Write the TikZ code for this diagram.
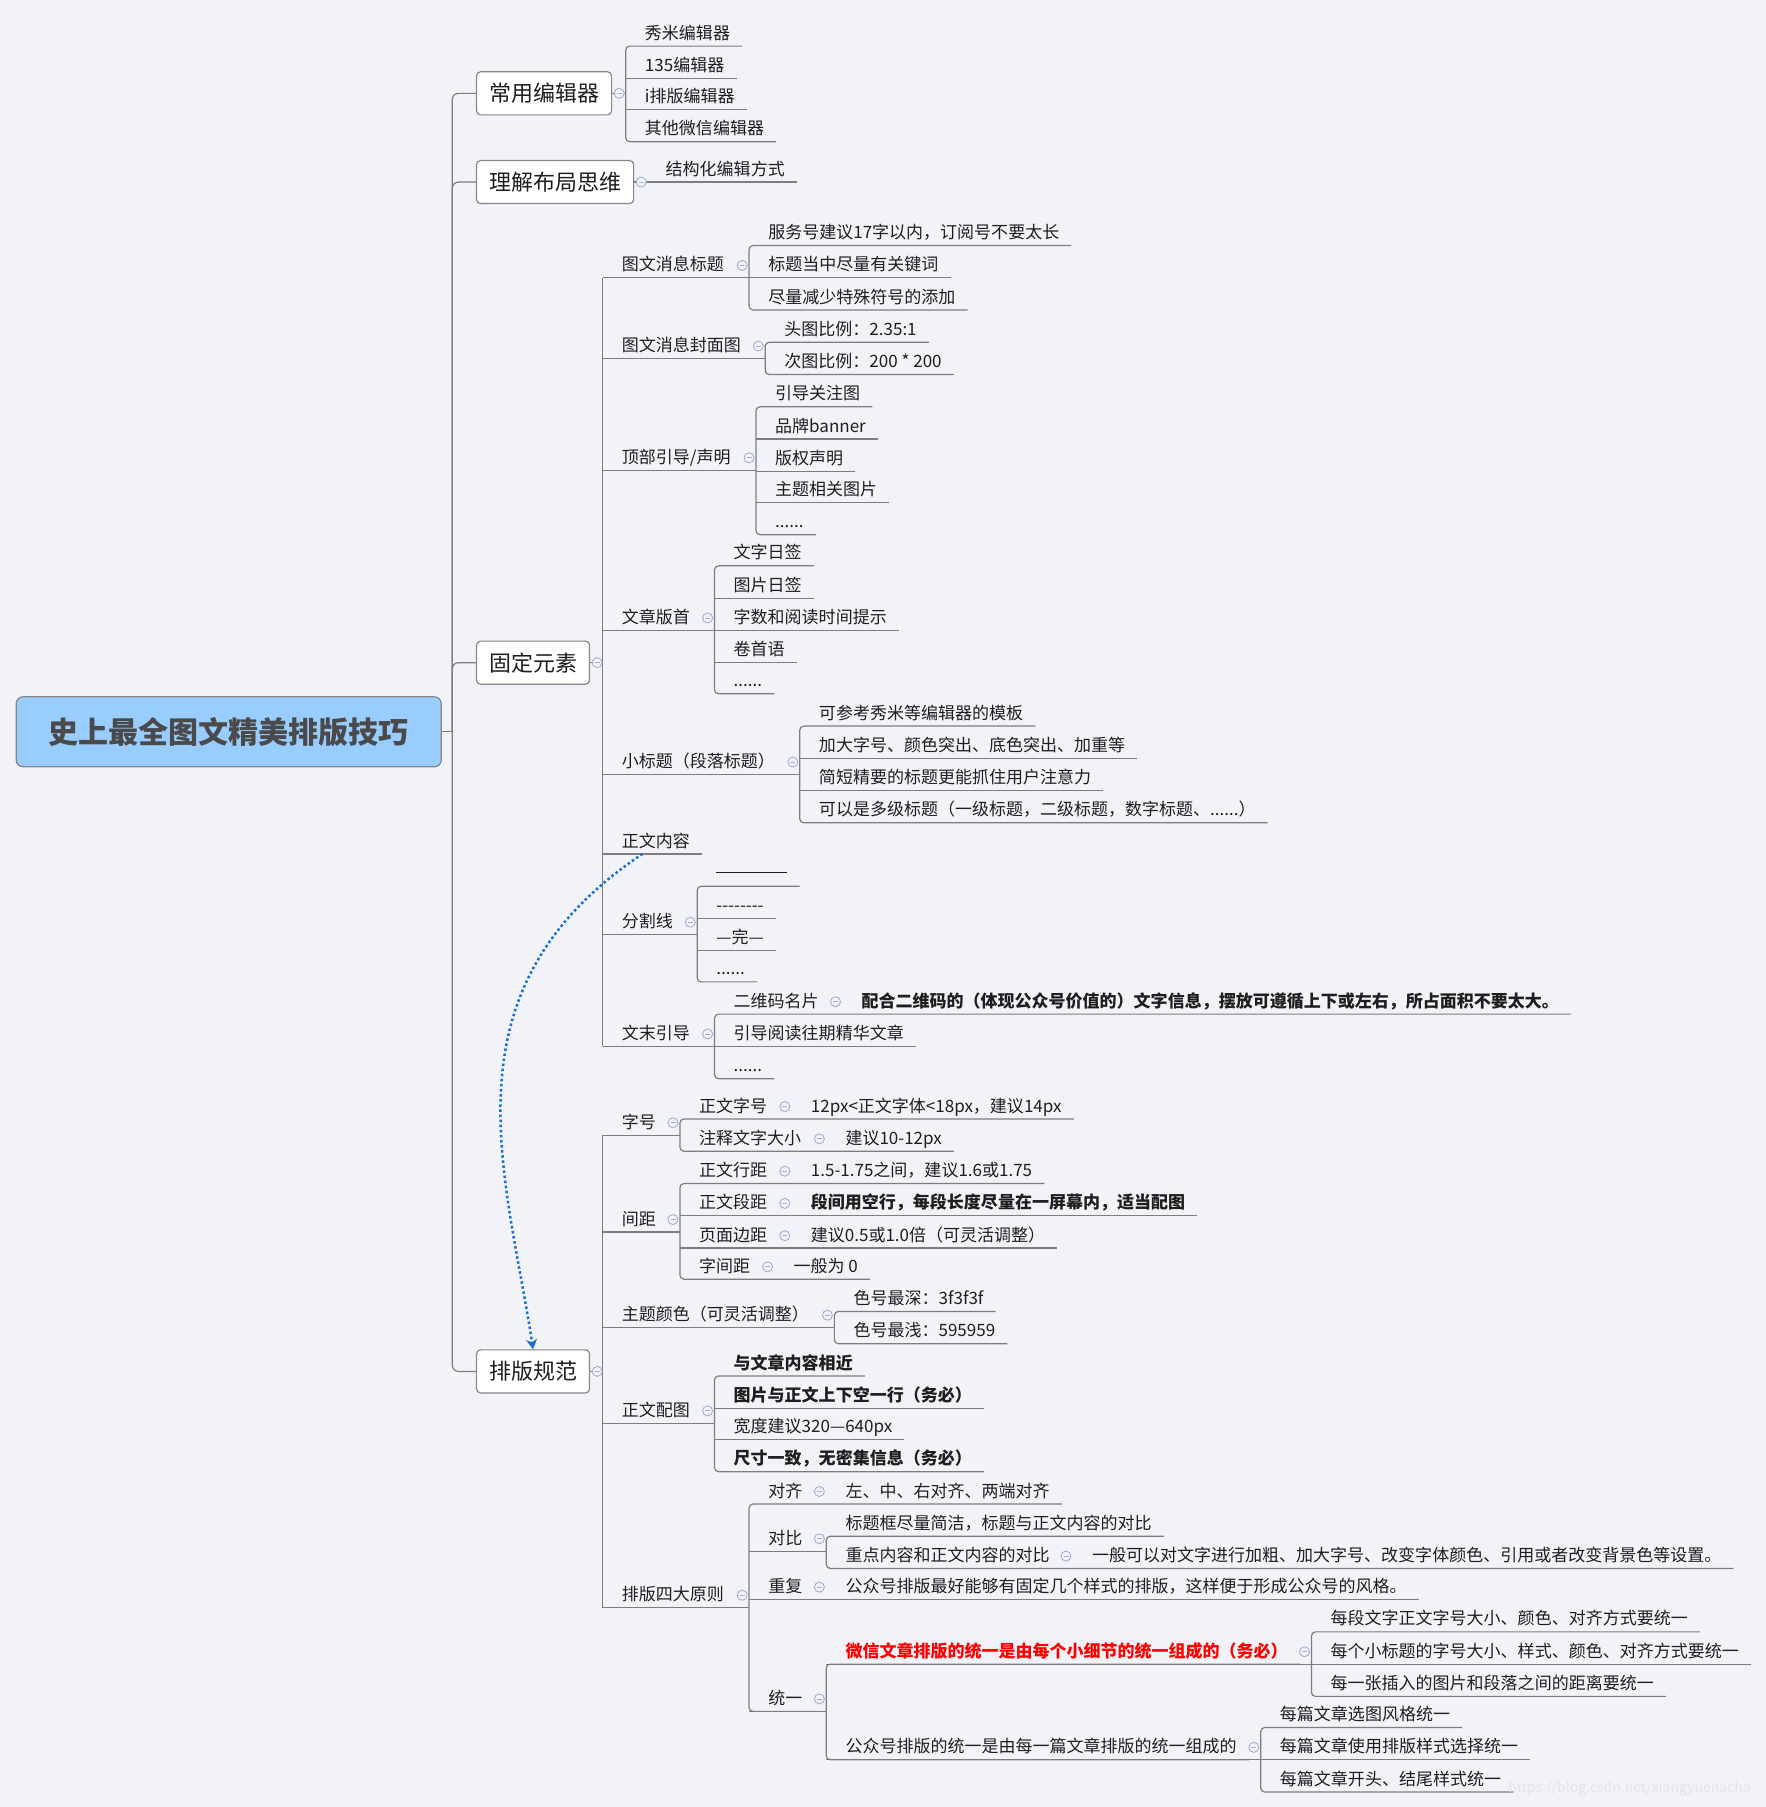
\documentclass[tikz,border=0pt]{standalone}
\usepackage{fontspec}
\setmainfont{Noto Sans CJK SC}
\usetikzlibrary{arrows.meta,calc}

\definecolor{bgc}{RGB}{242,243,248}
\definecolor{linec}{RGB}{125,125,125}
\definecolor{boxc}{RGB}{135,135,135}
\definecolor{txtc}{RGB}{30,30,30}
\definecolor{rootc}{RGB}{153,204,255}
\definecolor{roott}{RGB}{74,74,74}
\definecolor{foldc}{RGB}{160,176,212}
\definecolor{arrc}{RGB}{25,110,210}
\definecolor{redc}{RGB}{255,0,0}
\definecolor{wmc}{RGB}{226,228,234}

\begin{document}
\begin{tikzpicture}[x=1.152pt,y=-1.152pt,
  conn/.style={draw=linec,line width=1.2pt},
  tp/.style={anchor=south west,inner xsep=0pt,inner ysep=3.7pt,text height=14pt,text depth=3pt,
    font=\fontsize{17pt}{20pt}\selectfont,text=txtc,
    execute at begin node={\hspace*{19pt}},execute at end node={\hspace*{12pt}}},
  bd/.style={tp,font=\fontsize{17pt}{20pt}\selectfont\bfseries},
  topbox/.style={anchor=west,draw=boxc,fill=white,line width=1.2pt,rounded corners=4pt,
    inner xsep=12.5pt,minimum height=43pt,font=\fontsize{22pt}{26pt}\selectfont,text=txtc},
  rootbox/.style={draw=boxc,fill=rootc,line width=1.2pt,rounded corners=7pt,minimum width=425pt,
    minimum height=70pt,font=\fontsize{30pt}{34pt}\selectfont\bfseries,text=roott},
  fold/.style={circle,draw=foldc,fill=bgc,line width=0.9pt,inner sep=0pt,minimum size=10pt,
    path picture={\draw[foldc,line width=0.9pt]
      ([xshift=-2.5pt]path picture bounding box.center) -- ([xshift=2.5pt]path picture bounding box.center);}},
  wmark/.style={font=\fontsize{14pt}{16pt}\selectfont,text=wmc},
  rel/.style={draw=arrc,line width=2.5pt,dash pattern=on 2.5pt off 2.6pt,-{Stealth[length=10pt,width=11pt]}}]

  % sfondo
  \fill[bgc] (0,0) rectangle (1532,1568);
  \useasboundingbox (0,0) rectangle (1532,1568);

  % radice e rami principali
  \node[rootbox] (root) at (198.5,635) {史上最全图文精美排版技巧};
  \node[topbox] (b1) at (413,81) {常用编辑器};
  \node[topbox] (b2) at (413,158) {理解布局思维};
  \node[topbox] (b3) at (413,575) {固定元素};
  \node[topbox] (b4) at (413,1190) {排版规范};
  \coordinate (trk) at ([xshift=10.4pt]root.east);
  \draw[conn] (root.east) -- (trk);
  \draw[conn,rounded corners=6pt] (b1.west) -| (trk) |- (b4.west);
  \draw[conn,rounded corners=6pt] (b2.west) -| (trk);
  \draw[conn,rounded corners=6pt] (b3.west) -| (trk);

  % common editors
  \node[tp] (e1) at (543,40) {秀米编辑器};
  \node[tp] (e2) at (543,68) {135编辑器};
  \node[tp] (e3) at (543,95) {i排版编辑器};
  \node[tp] (e4) at (543,123) {其他微信编辑器};
  \draw[conn] (b1.east) -- (b1.east -| e1.south west);
  \draw[conn,rounded corners=4pt] (e1.south east) -- (e1.south west) -- (e4.south west) -- (e4.south east);
  \draw[conn] (e2.south west) -- (e2.south east) (e3.south west) -- (e3.south east);
  \node[fold] (fb1) at ([xshift=7pt]b1.east) {};

  % layout
  \node[tp] (s1) at (561,158) {结构化编辑方式};
  \draw[conn] (b2.east) -- (s1.south west) -- (s1.south east);
  \node[fold] (fb2) at ([xshift=7pt]b2.east) {};

  % fixed elements
  \node[tp] (g1) at (523,241) {图文消息标题};
  \node[tp] (g2) at (523,311) {图文消息封面图};
  \node[tp] (g3) at (523,408) {顶部引导/声明};
  \node[tp] (g4) at (523,547) {文章版首};
  \node[tp] (g5) at (523,672) {小标题（段落标题）};
  \node[tp] (g6) at (523,741) {正文内容};
  \node[tp] (g7) at (523,811) {分割线};
  \node[tp] (g8) at (523,908) {文末引导};
  \draw[conn] (b3.east) -- (b3.east -| g1.south west);
  \draw[conn] (g1.south west) -- (g8.south west);
  \draw[conn] (g6.south west) -- (g6.south east);
  \node[fold] (fb3) at ([xshift=7pt]b3.east) {};

  \node[tp] (h11) at (650,213) {服务号建议17字以内，订阅号不要太长};
  \node[tp] (h12) at (650,241) {标题当中尽量有关键词};
  \node[tp] (h13) at (650,269) {尽量减少特殊符号的添加};
  \draw[conn] (g1.south west) -- (g1.south west -| h11.south west);
  \draw[conn,rounded corners=4pt] (h11.south east) -- (h11.south west) -- (h13.south west) -- (h13.south east);
  \draw[conn] (h12.south west) -- (h12.south east);
  \node[fold] (fg1) at ($(g1.center -| h11.south west)+(-6,0)$) {};

  \node[tp] (h21) at (664,297) {头图比例：2.35:1};
  \node[tp] (h22) at (664,325) {次图比例：200 * 200};
  \draw[conn] (g2.south west) -- (g2.south west -| h21.south west);
  \draw[conn,rounded corners=4pt] (h21.south east) -- (h21.south west) -- (h22.south west) -- (h22.south east);
  \node[fold] (fg2) at ($(g2.center -| h21.south west)+(-6,0)$) {};

  \node[tp] (h31) at (656,353) {引导关注图};
  \node[tp] (h32) at (656,381) {品牌banner};
  \node[tp] (h33) at (656,409) {版权声明};
  \node[tp] (h34) at (656,436) {主题相关图片};
  \node[tp] (h35) at (656,464) {......};
  \draw[conn] (g3.south west) -- (g3.south west -| h31.south west);
  \draw[conn,rounded corners=4pt] (h31.south east) -- (h31.south west) -- (h35.south west) -- (h35.south east);
  \draw[conn] (h32.south west) -- (h32.south east) (h33.south west) -- (h33.south east)
    (h34.south west) -- (h34.south east);
  \node[fold] (fg3) at ($(g3.center -| h31.south west)+(-6,0)$) {};

  \node[tp] (h41) at (620,491) {文字日签};
  \node[tp] (h42) at (620,519) {图片日签};
  \node[tp] (h43) at (620,547) {字数和阅读时间提示};
  \node[tp] (h44) at (620,575) {卷首语};
  \node[tp] (h45) at (620,602) {......};
  \draw[conn] (g4.south west) -- (g4.south west -| h41.south west);
  \draw[conn,rounded corners=4pt] (h41.south east) -- (h41.south west) -- (h45.south west) -- (h45.south east);
  \draw[conn] (h42.south west) -- (h42.south east) (h43.south west) -- (h43.south east)
    (h44.south west) -- (h44.south east);
  \node[fold] (fg4) at ($(g4.center -| h41.south west)+(-6,0)$) {};

  \node[tp] (h51) at (694,630) {可参考秀米等编辑器的模板};
  \node[tp] (h52) at (694,658) {加大字号、颜色突出、底色突出、加重等};
  \node[tp] (h53) at (694,686) {简短精要的标题更能抓住用户注意力};
  \node[tp] (h54) at (694,714) {可以是多级标题（一级标题，二级标题，数字标题、......）};
  \draw[conn] (g5.south west) -- (g5.south west -| h51.south west);
  \draw[conn,rounded corners=4pt] (h51.south east) -- (h51.south west) -- (h54.south west) -- (h54.south east);
  \draw[conn] (h52.south west) -- (h52.south east) (h53.south west) -- (h53.south east);
  \node[fold] (fg5) at ($(g5.center -| h51.south west)+(-6,0)$) {};

  \node[tp] (h71) at (605,769) {\raisebox{6pt}{\rule{71pt}{1.5pt}}};
  \node[tp] (h72) at (605,797) {-{}-{}-{}-{}-{}-{}-{}-};
  \node[tp] (h73) at (605,825) {—完—};
  \node[tp] (h74) at (605,852) {......};
  \draw[conn] (g7.south west) -- (g7.south west -| h71.south west);
  \draw[conn,rounded corners=4pt] (h71.south east) -- (h71.south west) -- (h74.south west) -- (h74.south east);
  \draw[conn] (h72.south west) -- (h72.south east) (h73.south west) -- (h73.south east);
  \node[fold] (fg7) at ($(g7.center -| h71.south west)+(-6,0)$) {};

  \node[tp] (h81) at (620,880) {二维码名片};
  \node[bd] (k81) at (731,880) {配合二维码的（体现公众号价值的）文字信息，摆放可遵循上下或左右，所占面积不要太大。};
  \node[tp] (h82) at (620,908) {引导阅读往期精华文章};
  \node[tp] (h83) at (620,936) {......};
  \draw[conn] (g8.south west) -- (g8.south west -| h81.south west);
  \draw[conn,rounded corners=4pt] (k81.south east) -- (h81.south west) -- (h83.south west) -- (h83.south east);
  \draw[conn] (h82.south west) -- (h82.south east);
  \node[fold] (fg8) at ($(g8.center -| h81.south west)+(-6,0)$) {};
  \node[fold] (fh8) at ($(h81.center -| k81.south west)+(-6,0)$) {};

  % layout rules
  \node[tp] (p1) at (523,985) {字号};
  \node[tp] (p2) at (523,1069) {间距};
  \node[tp] (p3) at (523,1152) {主题颜色（可灵活调整）};
  \node[tp] (p4) at (523,1235) {正文配图};
  \node[tp] (p5) at (523,1395) {排版四大原则};
  \draw[conn] (b4.east) -- (b4.east -| p1.south west);
  \draw[conn] (p1.south west) -- (p5.south west);
  \node[fold] (fb4) at ([xshift=7pt]b4.east) {};

  \node[tp] (q11) at (590,971) {正文字号};
  \node[tp] (r11) at (687,971) {12px<正文字体<18px，建议14px};
  \node[tp] (q12) at (590,999) {注释文字大小};
  \node[tp] (r12) at (717,999) {建议10-12px};
  \draw[conn] (p1.south west) -- (p1.south west -| q11.south west);
  \draw[conn,rounded corners=4pt] (r11.south east) -- (q11.south west) -- (q12.south west) -- (r12.south east);
  \node[fold] (fp1) at ($(p1.center -| q11.south west)+(-6,0)$) {};
  \node[fold] (fq11) at ($(q11.center -| r11.south west)+(-6,0)$) {};
  \node[fold] (fq12) at ($(q12.center -| r12.south west)+(-6,0)$) {};

  \node[tp] (q21) at (590,1027) {正文行距};
  \node[tp] (r21) at (687,1027) {1.5-1.75之间，建议1.6或1.75};
  \node[tp] (q22) at (590,1055) {正文段距};
  \node[bd] (r22) at (687,1055) {段间用空行，每段长度尽量在一屏幕内，适当配图};
  \node[tp] (q23) at (590,1083) {页面边距};
  \node[tp] (r23) at (687,1083) {建议0.5或1.0倍（可灵活调整）};
  \node[tp] (q24) at (590,1110) {字间距};
  \node[tp] (r24) at (672,1110) {一般为 0};
  \draw[conn] (p2.south west) -- (p2.south west -| q21.south west);
  \draw[conn,rounded corners=4pt] (r21.south east) -- (q21.south west) -- (q24.south west) -- (r24.south east);
  \draw[conn] (q22.south west) -- (r22.south east) (q23.south west) -- (r23.south east);
  \node[fold] (fp2) at ($(p2.center -| q21.south west)+(-6,0)$) {};
  \node[fold] (fq21) at ($(q21.center -| r21.south west)+(-6,0)$) {};
  \node[fold] (fq22) at ($(q22.center -| r22.south west)+(-6,0)$) {};
  \node[fold] (fq23) at ($(q23.center -| r23.south west)+(-6,0)$) {};
  \node[fold] (fq24) at ($(q24.center -| r24.south west)+(-6,0)$) {};

  \node[tp] (q31) at (724,1138) {色号最深：3f3f3f};
  \node[tp] (q32) at (724,1166) {色号最浅：595959};
  \draw[conn] (p3.south west) -- (p3.south west -| q31.south west);
  \draw[conn,rounded corners=4pt] (q31.south east) -- (q31.south west) -- (q32.south west) -- (q32.south east);
  \node[fold] (fp3) at ($(p3.center -| q31.south west)+(-6,0)$) {};

  \node[bd] (q41) at (620,1194) {与文章内容相近};
  \node[bd] (q42) at (620,1222) {图片与正文上下空一行（务必）};
  \node[tp] (q43) at (620,1249) {宽度建议320—640px};
  \node[bd] (q44) at (620,1277) {尺寸一致，无密集信息（务必）};
  \draw[conn] (p4.south west) -- (p4.south west -| q41.south west);
  \draw[conn,rounded corners=4pt] (q41.south east) -- (q41.south west) -- (q44.south west) -- (q44.south east);
  \draw[conn] (q42.south west) -- (q42.south east) (q43.south west) -- (q43.south east);
  \node[fold] (fp4) at ($(p4.center -| q41.south west)+(-6,0)$) {};

  % four principles
  \node[tp] (q51) at (650,1305) {对齐};
  \node[tp] (r51) at (717,1305) {左、中、右对齐、两端对齐};
  \node[tp] (q52) at (650,1346) {对比};
  \node[tp] (r521) at (717,1333) {标题框尽量简洁，标题与正文内容的对比};
  \node[tp] (r522) at (717,1361) {重点内容和正文内容的对比};
  \node[tp] (t522) at (931,1361) {一般可以对文字进行加粗、加大字号、改变字体颜色、引用或者改变背景色等设置。};
  \node[tp] (q53) at (650,1388) {重复};
  \node[tp] (r53) at (717,1388) {公众号排版最好能够有固定几个样式的排版，这样便于形成公众号的风格。};
  \node[tp] (q54) at (650,1485) {统一};
  \node[bd,text=redc] (r541) at (717,1444) {微信文章排版的统一是由每个小细节的统一组成的（务必）};
  \node[tp] (r542) at (717,1527) {公众号排版的统一是由每一篇文章排版的统一组成的};
  \draw[conn] (p5.south west) -- (p5.south west -| q51.south west);
  \draw[conn,rounded corners=4pt] (r51.south east) -- (q51.south west) -- (q54.south west) -- (q54.south east);
  \draw[conn] (q53.south west) -- (r53.south east);
  \draw[conn] (q52.south west) -- (q52.south west -| r521.south west);
  \draw[conn,rounded corners=4pt] (r521.south east) -- (r521.south west) -- (r522.south west) -- (t522.south east);
  \draw[conn] (q54.south west) -- (q54.south west -| r542.south west);
  \node[fold] (fp5) at ($(p5.center -| q51.south west)+(-6,0)$) {};
  \node[fold] (fq51) at ($(q51.center -| r51.south west)+(-6,0)$) {};
  \node[fold] (fq52) at ($(q52.center -| r521.south west)+(-6,0)$) {};
  \node[fold] (fr52) at ($(r522.center -| t522.south west)+(-6,0)$) {};
  \node[fold] (fq53) at ($(q53.center -| r53.south west)+(-6,0)$) {};
  \node[fold] (fq54) at ($(q54.center -| r541.south west)+(-6,0)$) {};

  \node[tp] (t1) at (1138,1416) {每段文字正文字号大小、颜色、对齐方式要统一};
  \node[tp] (t2) at (1138,1444) {每个小标题的字号大小、样式、颜色、对齐方式要统一};
  \node[tp] (t3) at (1138,1472) {每一张插入的图片和段落之间的距离要统一};
  \node[tp] (t4) at (1094,1499) {每篇文章选图风格统一};
  \node[tp] (t5) at (1094,1527) {每篇文章使用排版样式选择统一};
  \node[tp] (t6) at (1094,1555) {每篇文章开头、结尾样式统一};
  \draw[conn,rounded corners=4pt] (r541.south east) -- (r541.south west) -- (r542.south west) -- (r542.south east);
  \draw[conn] (r541.south west) -- (r541.south west -| t1.south west);
  \draw[conn,rounded corners=4pt] (t1.south east) -- (t1.south west) -- (t3.south west) -- (t3.south east);
  \draw[conn] (t2.south west) -- (t2.south east);
  \draw[conn] (r542.south west) -- (r542.south west -| t4.south west);
  \draw[conn,rounded corners=4pt] (t4.south east) -- (t4.south west) -- (t6.south west) -- (t6.south east);
  \draw[conn] (t5.south west) -- (t5.south east);
  \node[fold] (fr541) at ($(r541.center -| t1.south west)+(-6,0)$) {};
  \node[fold] (fr542) at ($(r542.center -| t4.south west)+(-6,0)$) {};

  % relazione
  \draw[rel] ([xshift=-10pt]g6.south) .. controls +(-177,118) and +(-23,-152) .. (b4.north);

  % watermark
  \node[wmark] (wm) at (1414,1552) {https://blog.csdn.net/xiangyuenacha};
\end{tikzpicture}
\end{document}
